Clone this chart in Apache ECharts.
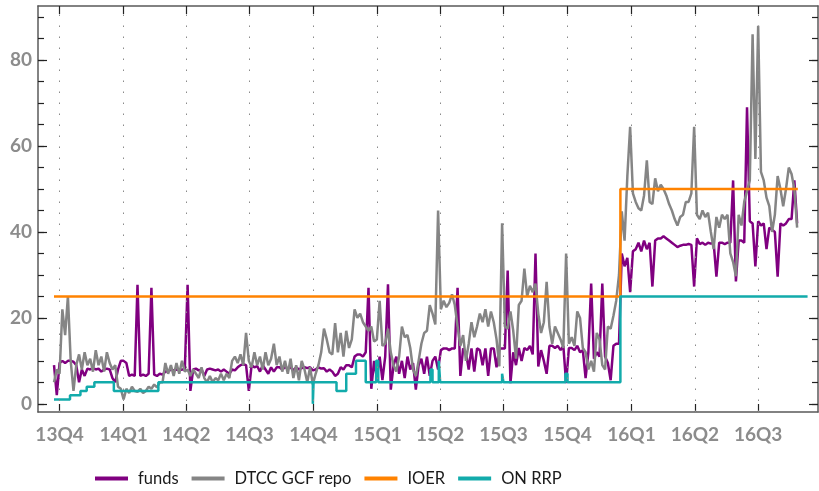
<!DOCTYPE html>
<html>
<head>
<meta charset="utf-8">
<script src="https://cdn.jsdelivr.net/npm/echarts@6/dist/echarts.min.js"></script>
<style>
html, body { margin: 0; padding: 0; background: #fff; }
#chart { width: 819px; height: 491px; }
</style>
</head>
<body>
<div id="chart"></div>
<script>
// daily-ish observations, one value every 4 days starting 2013-09-23
const firstDay = '2013-09-23';
const stepDays = 4;

const funds = [
    9, 2, 9.5, 10, 9.5, 10, 10, 9.8, 9, 5,
    8, 6.5, 8.2, 8, 8.3, 8, 8.2, 7.5, 8, 8.2,
    8, 6, 5, 8, 10, 10, 9.5, 6.5, 6.8, 6.5,
    27.7, 6.5, 6.8, 6.5, 7, 27, 6.8, 6.5, 7, 6.8,
    7.5, 7.5, 8, 7.8, 8, 7.8, 8, 8, 27.7, 3,
    8, 8.2, 7.8, 8, 6.5, 8, 8.2, 8, 7.8, 8,
    7.5, 8, 7.5, 7, 8, 7.8, 8.5, 9, 9.2, 9,
    3, 9, 8.5, 8.8, 7.5, 9, 8, 7, 8.5, 7.5,
    8.5, 8.5, 8, 8.5, 8.3, 8.5, 7.8, 8.5, 8, 8.3,
    8.5, 8.3, 8.5, 7.8, 8, 8.5, 8.2, 8.3, 7.5, 8,
    7.5, 6.5, 7, 8.5, 8, 9, 9, 8.5, 11, 11.5,
    11.5, 11, 12, 27, 3.5, 10, 6, 11, 5.5, 11,
    27.8, 3.3, 9, 11, 7, 10, 6, 11, 8, 9.5,
    3.3, 9, 10.5, 7, 11, 6.5, 10, 11, 8, 12.5,
    12.9, 12.9, 12.5, 12.9, 12.9, 27, 6.5, 12.9, 12, 8,
    12.9, 7.5, 12.9, 12.5, 9, 12.9, 6.5, 12.9, 12.9, 8.5,
    12.9, 12.9, 12.9, 31, 4.8, 12, 9, 13, 10, 13,
    12.5, 13.5, 11.5, 35, 8.7, 12.5, 10, 7, 13.5, 13.5,
    13, 13.5, 12.5, 13.5, 4.8, 13, 13, 12.5, 13.5, 12,
    12.5, 6, 12, 28, 10.5, 12, 11, 28, 11, 9.5,
    5.5, 13.5, 14, 14, 35, 32, 34, 26, 35.5, 36,
    37.5, 35.5, 38, 36, 37.5, 27.3, 38, 38.5, 38.5, 39,
    38.5, 38, 37.5, 37, 36.5, 36.8, 37, 37, 37.2, 37,
    27.3, 38.5, 37.2, 37.5, 37, 37.5, 37.3, 37.5, 29.6, 37.5,
    37.5, 37.2, 37.5, 37.5, 52, 28.5, 38, 38, 37.5, 69,
    42.5, 42, 32, 42.5, 41.5, 42, 36, 41, 40.5, 40,
    29.6, 42, 41.5, 42, 43, 43, 52, 42
];

const gcfRepo = [
    5, 8, 7, 22, 16, 25, 10, 3, 9, 11.5,
    8, 12, 9, 10.5, 7.5, 12.5, 9, 11, 7.5, 12,
    9.5, 8, 9, 4, 3.5, 1, 3.5, 2.5, 4, 3,
    2.8, 3.5, 2.5, 3, 4, 3.5, 4.5, 3.8, 5, 5,
    9.5, 7, 9, 6.5, 9.5, 7, 10, 7.5, 8, 6.5,
    8, 7, 6, 8.5, 6, 5, 6.5, 5, 6, 5.5,
    7, 5.5, 7, 6, 10, 11, 9.5, 11.5, 9, 16.5,
    10, 8.5, 12, 9, 11, 8, 12, 9, 10.5, 14,
    9, 11, 7.5, 10, 7, 10.5, 6, 9, 5.5, 10,
    8, 5, 8.5, 4.5, 7, 9, 12, 17.5, 15, 12,
    11.5, 18.8, 12, 16.5, 11, 17, 13, 15, 22, 20,
    21, 19, 18, 17, 18, 14.5, 15, 24, 13.5, 14,
    17.5, 12, 9, 7.5, 11, 18, 15.5, 16, 13, 8,
    6.5, 10, 14, 16.5, 17, 23, 21, 18.5, 45, 22,
    24, 22.5, 23.5, 25.5, 23, 18, 13.5, 16, 10, 14,
    19, 15.5, 18, 21, 19, 22, 18, 21.5, 19, 15,
    8.7, 42, 18, 17.5, 21.5, 17, 10.5, 23, 24, 31.5,
    25, 27.5, 26, 28, 21, 16.5, 19, 28.4, 18, 14,
    18, 16.5, 15, 13, 35, 14, 15.5, 13.5, 21.5, 20,
    13, 12, 8, 10, 7.5, 16.5, 15, 9, 8, 18,
    17.5, 20.5, 24, 30, 44.8, 38, 53, 64.5, 49, 47,
    45.5, 45, 48.5, 56.7, 47, 46.5, 52.5, 49.5, 51, 50,
    48.5, 46.5, 45, 43, 41.5, 43.5, 44, 47, 47, 49,
    64.5, 44, 43, 45, 43.5, 44.5, 40, 36, 43.5, 41,
    44, 43, 44, 35, 33, 29.7, 44, 41.5, 47, 49.5,
    52, 86, 57, 88, 54, 52, 48, 46, 40, 44,
    53, 50, 46, 50, 55, 53.5, 50, 41
];

// step series: value holds from its date until the next date
const ioerDates = ['2013-09-23', '2015-12-16', '2016-08-27'];
const ioer = [25, 50, 50];

const rrpDates = [
    '2013-09-23', '2013-10-16', '2013-10-31', '2013-11-09', '2013-11-20', '2013-12-18',
    '2014-02-20', '2014-09-30', '2014-10-01', '2014-11-03', '2014-11-17', '2014-12-01',
    '2014-12-15', '2014-12-30', '2015-01-02', '2015-03-18', '2015-03-21', '2015-03-30',
    '2015-04-01', '2015-06-29', '2015-07-01', '2015-09-28', '2015-10-01', '2015-12-16',
    '2016-09-10'
];
const rrp = [
    1, 2, 3, 4, 5, 3,
    5, 0, 5, 3, 7, 10,
    5, 10, 5, 8, 5, 10,
    5, 7, 5, 7, 5, 25,
    25
];

const quarterStarts = [
    '2013-10-01', '2014-01-01', '2014-04-01', '2014-07-01', '2014-10-01', '2015-01-01',
    '2015-04-01', '2015-07-01', '2015-10-01', '2016-01-01', '2016-04-01', '2016-07-01'
];
const yLabelValues = [0, 20, 40, 60, 80];
const yMinorTicks = [0, 5, 10, 15, 20, 25, 30, 35, 40, 45, 50, 55, 60, 65, 70, 75, 80, 85, 90];

function toTime(s) {
    const p = s.split('-').map(Number);
    return new Date(p[0], p[1] - 1, p[2]).getTime();
}
function stepDate(i) {
    const p = firstDay.split('-').map(Number);
    return new Date(p[0], p[1] - 1, p[2] + stepDays * i).getTime();
}

const quarterTimes = quarterStarts.map(toTime);
const xMin = toTime('2013-08-31');
const xMax = toTime('2016-09-25');
const yMin = -1.9;
const yMax = 92.6;

const frameColor = '#5a5a5a';
const labelFont = {
    color: '#8c8c8c',
    fontFamily: 'Lato',
    fontWeight: 'bold',
    fontSize: 19
};

// x is a plain value axis holding timestamps so quarter ticks can be placed by hand
function xAxisBase(pos, withLabels) {
    return {
        type: 'value',
        position: pos,
        min: xMin,
        max: xMax,
        axisLine: { show: true, onZero: false, lineStyle: { color: frameColor, width: 1.5 } },
        axisTick: {
            show: true,
            inside: true,
            length: 8,
            customValues: quarterTimes,
            lineStyle: { color: '#222', width: 1.2 }
        },
        axisLabel: withLabels ? Object.assign({
            show: true,
            margin: 13,
            customValues: quarterTimes,
            hideOverlap: false,
            formatter: function (v) {
                const d = new Date(v);
                return String(d.getFullYear()).slice(2) + 'Q' + (Math.floor(d.getMonth() / 3) + 1);
            }
        }, labelFont) : { show: false },
        splitLine: { show: false }
    };
}

function yAxisBase(pos, ticks, len, withLabels, withLine) {
    return {
        type: 'value',
        position: pos,
        min: yMin,
        max: yMax,
        axisLine: { show: withLine, onZero: false, lineStyle: { color: frameColor, width: 1.5 } },
        axisTick: {
            show: true,
            inside: true,
            length: len,
            customValues: ticks,
            lineStyle: { color: '#222', width: 1.2 }
        },
        axisLabel: withLabels ? Object.assign({
            show: true,
            margin: 6,
            customValues: yLabelValues
        }, labelFont) : { show: false },
        splitLine: { show: false }
    };
}

const chart = echarts.init(document.getElementById('chart'));
const option = {
    animation: false,
    backgroundColor: '#ffffff',
    grid: { left: 38, right: 1, top: 6, bottom: 79 },
    legend: {
        data: ['funds', 'DTCC GCF repo', 'IOER', 'ON RRP'],
        left: 90,
        top: 465,
        icon: 'rect',
        itemWidth: 33,
        itemHeight: 4,
        itemGap: 13,
        textStyle: {
            fontFamily: 'Lato',
            fontSize: 16.5,
            color: '#1a1a1a',
            padding: [0, 0, 0, 5]
        }
    },
    xAxis: [xAxisBase('bottom', true), xAxisBase('top', false)],
    yAxis: [
        yAxisBase('left', yMinorTicks, 6, true, true),
        yAxisBase('right', yMinorTicks, 6, false, true),
        yAxisBase('left', yLabelValues, 9, false, false),
        yAxisBase('right', yLabelValues, 9, false, false)
    ],
    series: [
        {
            name: 'quarters',
            type: 'line',
            data: [],
            silent: true,
            markLine: {
                silent: true,
                symbol: ['none', 'none'],
                label: { show: false },
                lineStyle: { type: [1.5, 9.5], color: '#8a8a8a', width: 1 },
                data: quarterTimes.map(t => ({ xAxis: t }))
            }
        },
        {
            name: 'funds',
            type: 'line',
            showSymbol: false,
            symbol: 'none',
            color: '#800080',
            lineStyle: { width: 2.5 },
            data: funds.map((v, i) => [stepDate(i), v])
        },
        {
            name: 'DTCC GCF repo',
            type: 'line',
            showSymbol: false,
            symbol: 'none',
            color: '#858585',
            lineStyle: { width: 2.5 },
            data: gcfRepo.map((v, i) => [stepDate(i), v])
        },
        {
            name: 'IOER',
            type: 'line',
            step: 'end',
            showSymbol: false,
            symbol: 'none',
            color: '#ff8200',
            lineStyle: { width: 2.5 },
            data: ioer.map((v, i) => [toTime(ioerDates[i]), v])
        },
        {
            name: 'ON RRP',
            type: 'line',
            step: 'end',
            showSymbol: false,
            symbol: 'none',
            color: '#12abab',
            lineStyle: { width: 2.5 },
            data: rrp.map((v, i) => [toTime(rrpDates[i]), v])
        }
    ]
};
chart.setOption(option);
</script>
</body>
</html>
